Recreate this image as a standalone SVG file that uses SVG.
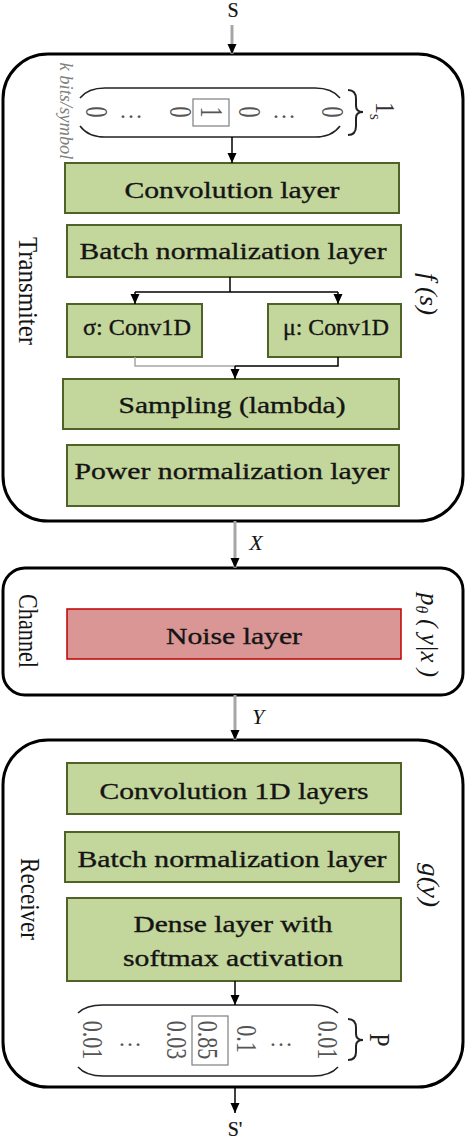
<svg xmlns="http://www.w3.org/2000/svg" width="466" height="1140" viewBox="0 0 466 1140">
<defs>
<marker id="ah" markerUnits="userSpaceOnUse" markerWidth="10" markerHeight="10" viewBox="0 0 10 10" refX="10" refY="5" orient="auto">
<path d="M0,0.5 L10,5 L0,9.5 z" fill="#000"/>
</marker>
</defs>
<style>
.outer{fill:#fff;stroke:#000;stroke-width:3}
.g{fill:#c3d69b;stroke:#4f6228;stroke-width:2}
.r{fill:#d99694;stroke:#c00000;stroke-width:1.5}
.t{font-family:"Liberation Serif","Times New Roman",serif;font-size:24px;fill:#141414;stroke:#141414;stroke-width:0.35;text-anchor:middle}
.side{font-family:"Liberation Serif","Times New Roman",serif;font-size:24px;fill:#141414;text-anchor:middle}
.it{font-family:"Liberation Serif","Times New Roman",serif;font-style:italic;font-size:22px;fill:#141414;text-anchor:middle}
.v{font-family:"Liberation Serif","Times New Roman",serif;font-size:22px;fill:#555;text-anchor:middle}
.dots{font-family:"Liberation Serif","Times New Roman",serif;font-size:24px;fill:#555;text-anchor:middle}
.cn{fill:none;stroke:#000;stroke-width:1.5}
.cg{fill:none;stroke:#a6a6a6;stroke-width:1.5}
.shaft{fill:none;stroke:#a6a6a6;stroke-width:3}
.par{fill:none;stroke:#222;stroke-width:1.5}
.box{fill:none;stroke:#7f7f7f;stroke-width:1.2}
</style>

<!-- Transmitter -->
<g id="transmitter">
<rect class="outer" x="3" y="54" width="460" height="467" rx="45" ry="45"/>
<text class="side" transform="translate(19,291) scale(1.15,1) rotate(90)" textLength="108" lengthAdjust="spacingAndGlyphs">Transmiter</text>
<text class="it" transform="translate(420,294) scale(1.15,1) rotate(90)" textLength="42" lengthAdjust="spacingAndGlyphs">f (s)</text>
</g>

<g id="input-vector">
<text class="it" style="font-size:18px;fill:#808080" transform="translate(60,111) rotate(90)" textLength="97" lengthAdjust="spacingAndGlyphs">k bits/symbol</text>
<path class="par" d="M80,98 Q88,88 105,88 L315,88 Q332,88 340,98"/>
<path class="par" d="M80,126 Q88,137 105,137 L315,137 Q332,137 340,126"/>
<text class="v" transform="translate(86,112) scale(1.4,1) rotate(90)">0</text>
<text class="dots" x="131" y="118">…</text>
<text class="v" transform="translate(170,112) scale(1.4,1) rotate(90)">0</text>
<rect class="box" x="193" y="99" width="36" height="27"/>
<text class="v" transform="translate(201,112) scale(1.4,1) rotate(90)">1</text>
<text class="v" transform="translate(239,112) scale(1.4,1) rotate(90)">0</text>
<text class="dots" x="284" y="118">…</text>
<text class="v" transform="translate(322,112) scale(1.4,1) rotate(90)">0</text>
<path class="par" style="stroke-width:2" d="M348,90 Q356,90 356,99 L356,106 Q356,112 363,112 Q356,112 356,118 L356,126 Q356,135 348,135"/>
<text class="v" style="fill:#333;text-anchor:start;font-size:24px" transform="translate(376,102) scale(1.15,1) rotate(90)">1<tspan dy="5" style="font-size:15px">s</tspan></text>
</g>

<g id="conv">
<rect class="g" x="65" y="163" width="334" height="50"/>
<text class="t" x="232" y="198" textLength="215" lengthAdjust="spacingAndGlyphs">Convolution layer</text>
</g>
<g id="bn1">
<rect class="g" x="67" y="225" width="334" height="52"/>
<text class="t" x="233" y="259" textLength="307" lengthAdjust="spacingAndGlyphs">Batch normalization layer</text>
</g>
<g id="sigma">
<rect class="g" x="67" y="304" width="135" height="53"/>
<text class="t" x="137" y="335" textLength="108" lengthAdjust="spacingAndGlyphs">σ: Conv1D</text>
</g>
<g id="mu">
<rect class="g" x="268" y="304" width="133" height="53"/>
<text class="t" x="336" y="335" textLength="106" lengthAdjust="spacingAndGlyphs">μ: Conv1D</text>
</g>
<g id="sampling">
<rect class="g" x="63" y="379" width="336" height="50"/>
<text class="t" x="232" y="413" textLength="227" lengthAdjust="spacingAndGlyphs">Sampling (lambda)</text>
</g>
<g id="power">
<rect class="g" x="67" y="445" width="332" height="61"/>
<text class="t" x="232" y="479" textLength="315" lengthAdjust="spacingAndGlyphs">Power normalization layer</text>
</g>

<!-- Channel -->
<g id="channel">
<rect class="outer" x="3" y="568" width="460" height="127" rx="22" ry="22"/>
<text class="side" transform="translate(19,631) scale(1.15,1) rotate(90)" textLength="74" lengthAdjust="spacingAndGlyphs">Channel</text>
<text class="it" transform="translate(421,635) scale(1.15,1) rotate(90)" textLength="84" lengthAdjust="spacingAndGlyphs">p<tspan dy="4" style="font-size:14px">θ</tspan><tspan dy="-4"> ( y|x )</tspan></text>
</g>
<g id="noise">
<rect class="r" x="67" y="609" width="334" height="50"/>
<text class="t" x="234" y="644" textLength="136" lengthAdjust="spacingAndGlyphs">Noise layer</text>
</g>

<!-- Receiver -->
<g id="receiver">
<rect class="outer" x="3" y="740" width="460" height="347" rx="45" ry="45"/>
<text class="side" transform="translate(21,899) scale(1.15,1) rotate(90)" textLength="82" lengthAdjust="spacingAndGlyphs">Receiver</text>
<text class="it" transform="translate(422,885) scale(1.15,1) rotate(90)" textLength="44" lengthAdjust="spacingAndGlyphs">g(y)</text>
</g>
<g id="conv1d">
<rect class="g" x="67" y="763" width="334" height="51"/>
<text class="t" x="234" y="799" textLength="269" lengthAdjust="spacingAndGlyphs">Convolution 1D layers</text>
</g>
<g id="bn2">
<rect class="g" x="65" y="832" width="334" height="50"/>
<text class="t" x="232" y="867" textLength="309" lengthAdjust="spacingAndGlyphs">Batch normalization layer</text>
</g>
<g id="dense">
<rect class="g" x="67" y="898" width="334" height="83"/>
<text class="t" x="233" y="932" textLength="199" lengthAdjust="spacingAndGlyphs">Dense layer with</text>
<text class="t" x="233" y="966" textLength="220" lengthAdjust="spacingAndGlyphs">softmax activation</text>
</g>

<g id="output-vector">
<path class="par" d="M78,1013 Q86,1005 103,1005 L313,1005 Q330,1005 338,1013"/>
<path class="par" d="M78,1067 Q86,1076 103,1076 L313,1076 Q330,1076 338,1067"/>
<text class="v" transform="translate(83,1040) scale(1.3,1) rotate(90)">0.01</text>
<text class="dots" x="130" y="1046">…</text>
<text class="v" transform="translate(167,1040) scale(1.3,1) rotate(90)">0.03</text>
<rect class="box" x="192" y="1016" width="36" height="49"/>
<text class="v" transform="translate(198,1040) scale(1.3,1) rotate(90)">0.85</text>
<text class="v" transform="translate(237,1039) scale(1.3,1) rotate(90)">0.1</text>
<text class="dots" x="281" y="1046">…</text>
<text class="v" transform="translate(318,1040) scale(1.3,1) rotate(90)">0.01</text>
<path class="par" style="stroke-width:2" d="M348,1019 Q356,1019 356,1028 L356,1034 Q356,1040 363,1040 Q356,1040 356,1046 L356,1052 Q356,1060 348,1060"/>
<text class="v" style="fill:#222;font-size:24px" transform="translate(370,1040) scale(1.2,1) rotate(90)">P</text>
</g>

<g id="labels">
<text class="t" style="font-size:20px;stroke-width:0.2" x="233" y="17">S</text>
<text class="it" x="256" y="550">X</text>
<text class="it" x="258" y="724">Y</text>
<text class="t" style="font-size:20px;stroke-width:0.2" x="235" y="1136">S'</text>
</g>

<!-- Connectors -->
<g id="connectors">
<line class="shaft" x1="232" y1="25" x2="232" y2="54" marker-end="url(#ah)"/>
<line class="cn" x1="232" y1="137" x2="232" y2="163" marker-end="url(#ah)"/>
<line class="cn" x1="230" y1="277" x2="230" y2="292"/>
<line class="cn" x1="135" y1="292" x2="338" y2="292"/>
<line class="cn" x1="135" y1="292" x2="135" y2="304" marker-end="url(#ah)"/>
<line class="cn" x1="338" y1="292" x2="338" y2="304" marker-end="url(#ah)"/>
<polyline class="cg" points="135,357 135,366 235,366"/>
<polyline class="cn" points="338,357 338,366 235,366"/>
<line class="cn" x1="235" y1="366" x2="235" y2="379" marker-end="url(#ah)"/>
<line class="shaft" x1="235" y1="521" x2="235" y2="568" marker-end="url(#ah)"/>
<line class="shaft" x1="235" y1="695" x2="235" y2="740" marker-end="url(#ah)"/>
<line class="cn" x1="235" y1="981" x2="235" y2="1005" marker-end="url(#ah)"/>
<line class="cn" x1="235" y1="1087" x2="235" y2="1113" marker-end="url(#ah)"/>
</g>
</svg>
